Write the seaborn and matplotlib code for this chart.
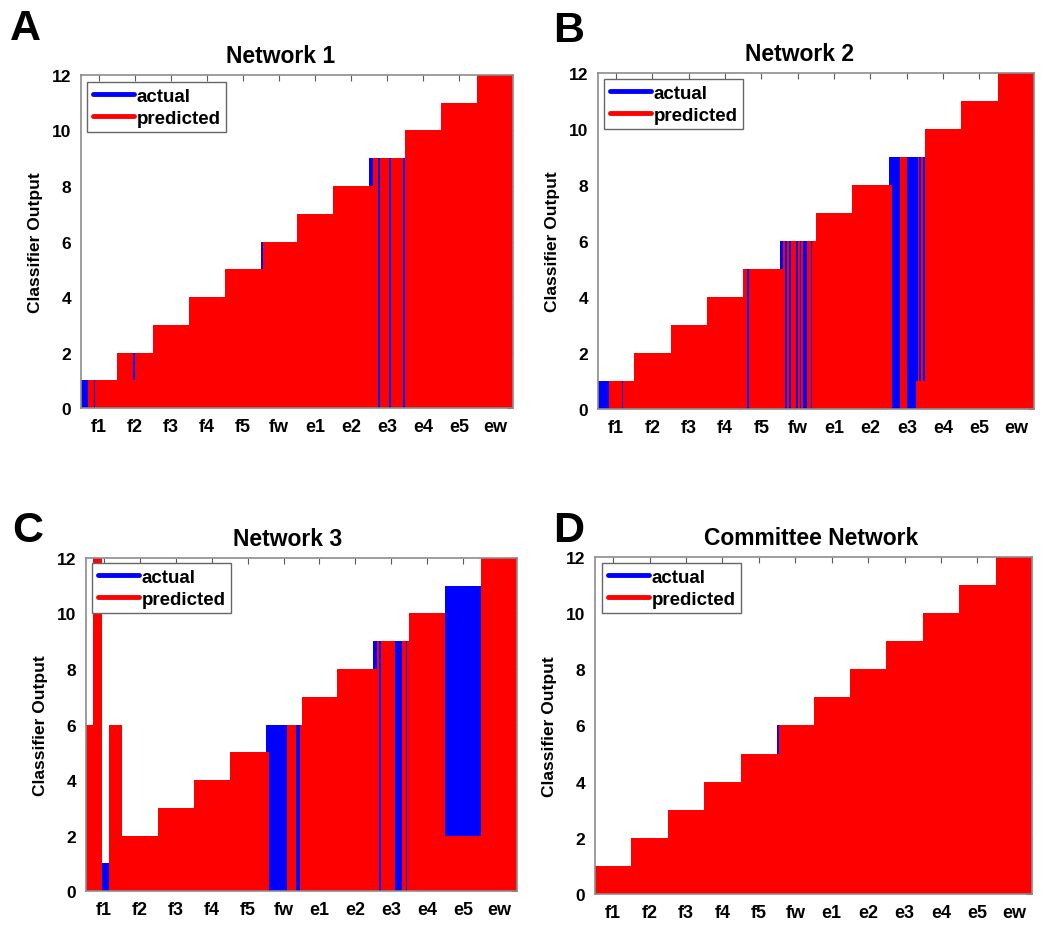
import numpy as np
import matplotlib
matplotlib.use("Agg")
import matplotlib.pyplot as plt
from matplotlib.lines import Line2D
import seaborn as sns

# ---------------- data ----------------
CATEGORIES = ["f1", "f2", "f3", "f4", "f5", "fw", "e1", "e2", "e3", "e4", "e5", "ew"]
CLASS_VALUES = [1, 2, 3, 4, 5, 6, 7, 8, 9, 10, 11, 12]
SAMPLES_PER_CLASS = 20
Y_TICKS = [0, 2, 4, 6, 8, 10, 12]

# misclassified runs: (first sample, last sample, predicted value)
ERRORS_NET1 = [(0, 3, 0), (7, 7, 0), (29, 29, 1), (100, 100, 5),
               (160, 161, 8), (165, 165, 0), (171, 171, 0), (179, 179, 0)]
ERRORS_NET2 = [(0, 5, 0), (13, 13, 0), (82, 82, 0), (100, 101, 5),
               (103, 103, 0), (105, 105, 0), (109, 109, 0), (111, 111, 0),
               (113, 114, 0), (117, 117, 0),
               (160, 161, 8), (162, 165, 0), (170, 174, 0),
               (175, 175, 1), (177, 177, 1), (179, 179, 1)]
ERRORS_NET3 = [(0, 3, 6), (4, 8, 12), (9, 12, 0), (13, 19, 6),
               (100, 101, 5), (102, 111, 0), (117, 118, 0),
               (160, 161, 8), (163, 163, 0), (172, 175, 0), (178, 178, 0),
               (200, 219, 2)]
ERRORS_COMMITTEE = [(100, 100, 5)]

PANELS = [
    ("A", "Network 1", ERRORS_NET1),
    ("B", "Network 2", ERRORS_NET2),
    ("C", "Network 3", ERRORS_NET3),
    ("D", "Committee Network", ERRORS_COMMITTEE),
]

# ---------------- style ----------------
sns.set_style("white")
plt.rcParams["font.family"] = ["Liberation Sans", "DejaVu Sans"]
plt.rcParams["font.weight"] = "bold"
plt.rcParams["axes.labelweight"] = "bold"
plt.rcParams["text.color"] = "black"
plt.rcParams["axes.labelcolor"] = "black"
plt.rcParams["xtick.color"] = "black"
plt.rcParams["ytick.color"] = "black"

BLUE = "#0000FF"
RED = "#FF0000"

# axes positions (fig fraction) and title/letter placement
AX_POS = [
    [0.0771, 0.5597, 0.4114, 0.3585],
    [0.5695, 0.5587, 0.4152, 0.3617],
    [0.0819, 0.0398, 0.4105, 0.3585],
    [0.5667, 0.0366, 0.4162, 0.3628],
]
TITLE_X = [0.463, 0.463, 0.4675, 0.494]
LETTER_POS = [(10, 40), (553, 42), (12, 542), (553, 542)]
LEGEND_ANCHOR = [(0.014, 0.979), (0.014, 0.982), (0.014, 0.985), (0.016, 0.982)]

fig = plt.figure(figsize=(10.5, 9.29), dpi=100)

actual = np.repeat(CLASS_VALUES, SAMPLES_PER_CLASS)
positions = np.arange(actual.size)

for i, (letter, title, errors) in enumerate(PANELS):
    ax = fig.add_axes(AX_POS[i])
    predicted = actual.copy()
    for a, b, v in errors:
        predicted[a:b + 1] = v

    sns.barplot(x=positions, y=actual, color=BLUE, width=1, native_scale=True,
                saturation=1, errorbar=None, linewidth=0, antialiased=False, ax=ax)
    sns.barplot(x=positions, y=predicted, color=RED, width=1, native_scale=True,
                saturation=1, errorbar=None, linewidth=0, antialiased=False, ax=ax)

    ax.set_xlim(-0.5, actual.size - 0.5)
    ax.set_ylim(0, 12)
    ax.set_axisbelow(True)
    centers = [k * SAMPLES_PER_CLASS + (SAMPLES_PER_CLASS - 1) / 2 for k in range(len(CATEGORIES))]
    ax.set_xticks(centers)
    ax.set_xticklabels(CATEGORIES, fontsize=13, fontweight="bold", color="black")
    ax.set_yticks(Y_TICKS)
    ax.set_yticklabels([str(t) for t in Y_TICKS], fontsize=12.5, fontweight="bold", color="black")
    ax.tick_params(direction="in", top=True, right=True, length=4, width=0.8,
                   color="0.35", pad=7)
    ax.set_xlabel("")
    ax.set_ylabel("Classifier Output", fontsize=12.5, fontweight="bold", labelpad=6, color="black")
    for sp in ax.spines.values():
        sp.set_visible(True)
        sp.set_color("0.55")
        sp.set_linewidth(1.2)

    ax.text(TITLE_X[i], 1 + 13 / 333, title, transform=ax.transAxes,
            ha="center", va="baseline", fontsize=16.5, fontweight="bold", color="black")

    handles = [Line2D([0], [0], color=BLUE, lw=3.5),
               Line2D([0], [0], color=RED, lw=3.5)]
    leg = ax.legend(handles, ["actual", "predicted"], loc="upper left",
                    bbox_to_anchor=LEGEND_ANCHOR[i], borderaxespad=0,
                    prop={"size": 13.5, "weight": "bold"}, handlelength=2.2,
                    handletextpad=0.15, labelspacing=0.25, borderpad=0.3,
                    fancybox=False, framealpha=1, edgecolor="0.4")
    leg.get_frame().set_linewidth(1.0)
    for t in leg.get_texts():
        t.set_color("black")

    lx, ly = LETTER_POS[i]
    fig.text(lx / 1050, 1 - ly / 929, letter, fontsize=31, fontweight="bold",
             ha="left", va="baseline", color="black")

fig.savefig("out.png", dpi=100)
